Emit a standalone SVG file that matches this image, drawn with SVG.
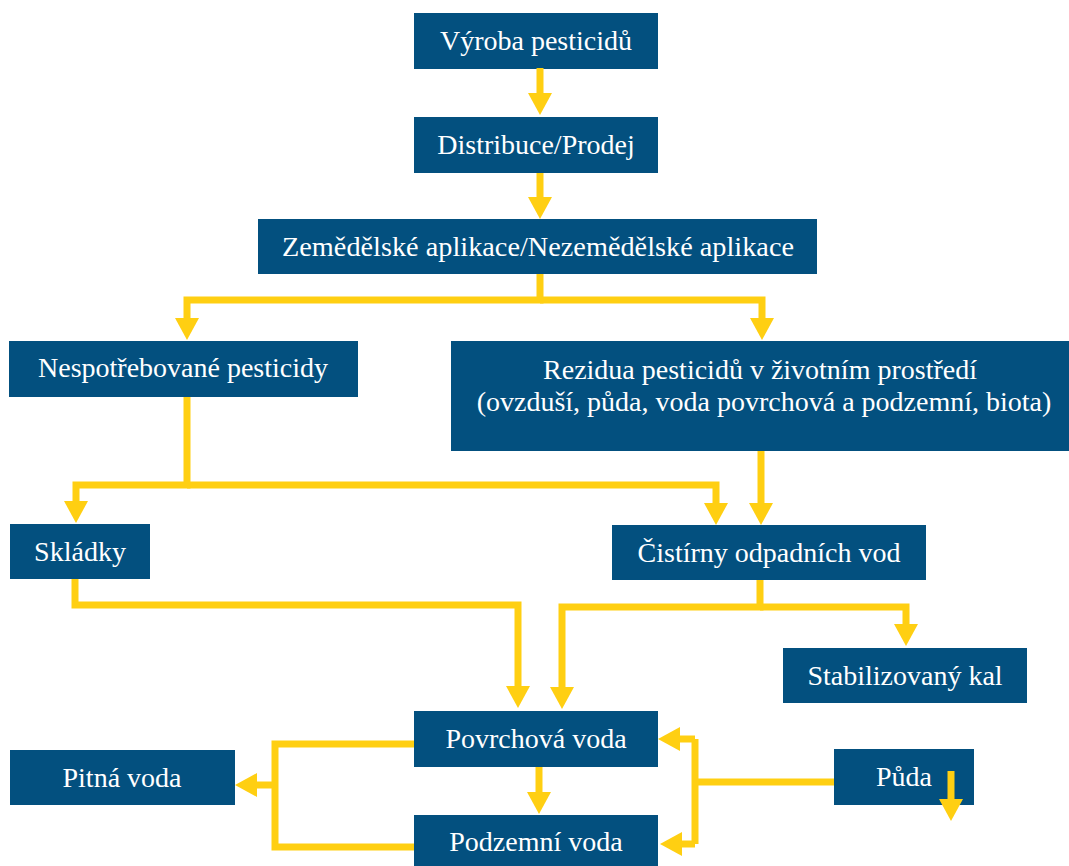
<svg xmlns="http://www.w3.org/2000/svg" width="1069" height="866" viewBox="0 0 1069 866">
<style>
.box{fill:#03507F}
.t{font-family:"Liberation Serif","Times New Roman",serif;font-size:28px;fill:#ffffff;text-anchor:middle}
.c{fill:none;stroke:#FFCF12;stroke-width:7;stroke-linejoin:miter}
</style>
<defs>
<marker id="ah" markerUnits="userSpaceOnUse" viewBox="0 0 22 24" markerWidth="22" markerHeight="24" refX="12" refY="12" orient="auto">
<path d="M0,0 L22,12 L0,24 z" fill="#FFCF12"/>
</marker>
</defs>
<rect width="1069" height="866" fill="#ffffff"/>
<g id="n1"><rect class="box" x="414" y="13" width="244" height="56"/><text class="t" x="536" y="50">Výroba pesticidů</text></g>
<g id="n2"><rect class="box" x="414" y="117" width="244" height="56"/><text class="t" x="536" y="154">Distribuce/Prodej</text></g>
<g id="n3"><rect class="box" x="258" y="219" width="559" height="55"/><text class="t" x="538" y="256" textLength="512" lengthAdjust="spacingAndGlyphs">Zemědělské aplikace/Nezemědělské aplikace</text></g>
<g id="n4"><rect class="box" x="9" y="341" width="349" height="56"/><text class="t" x="183" y="377">Nespotřebované pesticidy</text></g>
<g id="n5"><rect class="box" x="451" y="341" width="618" height="110"/><text class="t" x="760" y="379">Rezidua pesticidů v životním prostředí</text><text class="t" x="764" y="411">(ovzduší, půda, voda povrchová a podzemní, biota)</text></g>
<g id="n6"><rect class="box" x="10" y="524" width="140" height="55"/><text class="t" x="80" y="561">Skládky</text></g>
<g id="n7"><rect class="box" x="612" y="525" width="314" height="55"/><text class="t" x="769" y="562">Čistírny odpadních vod</text></g>
<g id="n8"><rect class="box" x="783" y="648" width="244" height="55"/><text class="t" x="905" y="685">Stabilizovaný kal</text></g>
<g id="n9"><rect class="box" x="414" y="711" width="244" height="56"/><text class="t" x="536" y="748">Povrchová voda</text></g>
<g id="n10"><rect class="box" x="10" y="750" width="225" height="55"/><text class="t" x="122" y="787">Pitná voda</text></g>
<g id="n11"><rect class="box" x="834" y="749" width="140" height="56"/><text class="t" x="904" y="786">Půda</text></g>
<g id="n12"><rect class="box" x="414" y="815" width="244" height="51"/><text class="t" x="536" y="851">Podzemní voda</text></g>
<g id="connectors">
<path class="c" d="M540,68 V105" marker-end="url(#ah)"/>
<path class="c" d="M540,173 V209" marker-end="url(#ah)"/>
<path class="c" d="M540,274 V300 H187 V330" marker-end="url(#ah)"/>
<path class="c" d="M540,300 H762 V330" marker-end="url(#ah)"/>
<path class="c" d="M187,397 V485 H76 V513" marker-end="url(#ah)"/>
<path class="c" d="M187,485 H716 V515" marker-end="url(#ah)"/>
<path class="c" d="M761,451 V515" marker-end="url(#ah)"/>
<path class="c" d="M75,579 V605 H518 V698" marker-end="url(#ah)"/>
<path class="c" d="M760,580 V607 H562 V699" marker-end="url(#ah)"/>
<path class="c" d="M760,607 H906 V636" marker-end="url(#ah)"/>
<path class="c" d="M414,744 H275 V847 H414"/>
<path class="c" d="M275,785 H245" marker-end="url(#ah)"/>
<path class="c" d="M539,767 V804" marker-end="url(#ah)"/>
<path class="c" d="M834,782 H695"/>
<path class="c" d="M695,739 V844"/>
<path class="c" d="M695,739 H668" marker-end="url(#ah)"/>
<path class="c" d="M695,844 H670" marker-end="url(#ah)"/>
<path class="c" d="M951,771 V811" marker-end="url(#ah)"/>
</g>
</svg>
